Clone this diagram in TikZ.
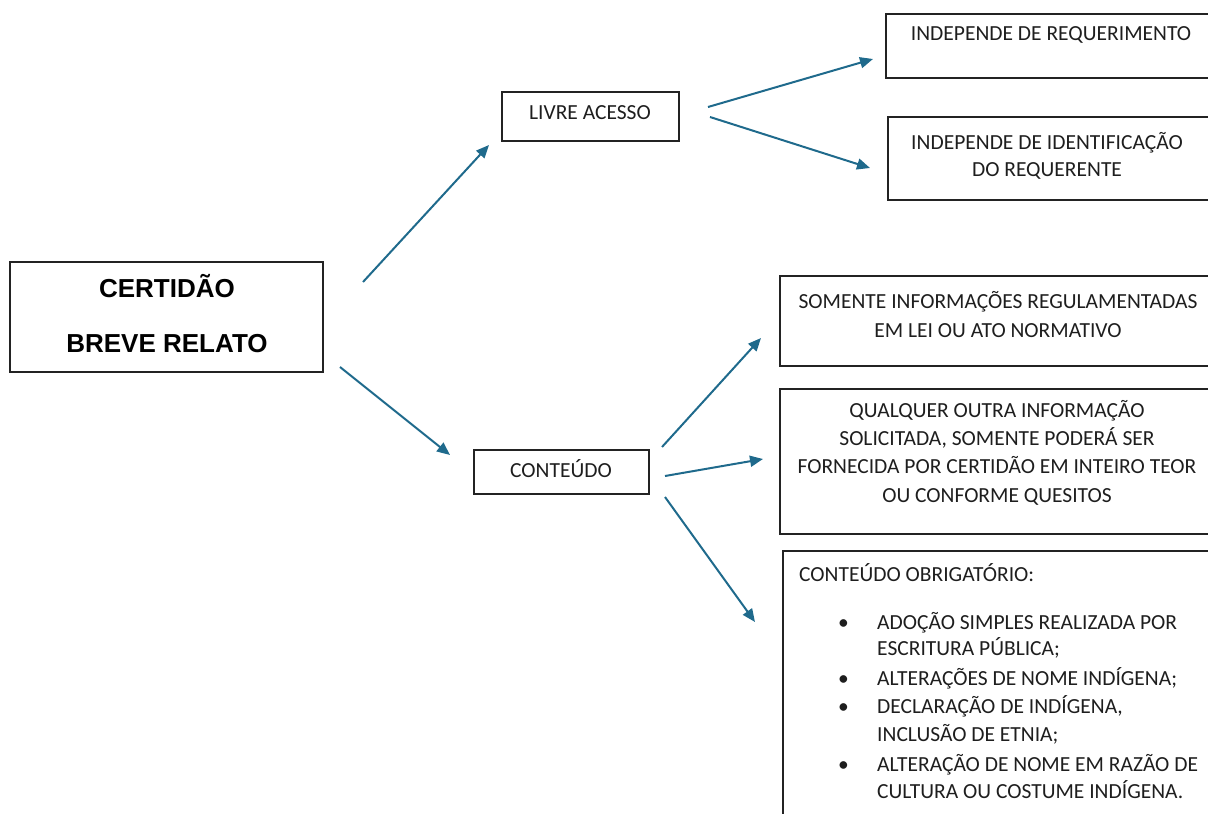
\documentclass[tikz,border=0pt]{standalone}
\usepackage{fontspec}
\setmainfont{Carlito}
\newfontfamily\titlefont{Liberation Sans}
\usetikzlibrary{arrows.meta,calc}
\definecolor{arrowblue}{RGB}{31,106,140}
\definecolor{boxline}{RGB}{35,35,35}
\definecolor{textcol}{RGB}{30,30,30}
\begin{document}
\begin{tikzpicture}[x=1pt,y=-1pt,
  box/.style={draw=boxline, line width=1.4pt, inner sep=0pt, outer sep=0pt, anchor=north west},
  txt/.style={font=\fontsize{21.5}{28}\selectfont, text=textcol, inner sep=0pt, align=center, anchor=base},
  ltxt/.style={font=\fontsize{21.5}{28}\selectfont, text=textcol, inner sep=0pt, anchor=base west},
  ttl/.style={font=\titlefont\bfseries\fontsize{26}{30}\selectfont, text=black, inner sep=0pt, anchor=base},
  arr/.style={draw=arrowblue, line width=2pt, -{Triangle[length=13pt,width=11pt]}}]
\useasboundingbox (0,0) rectangle (1208,814);
\clip (0,0) rectangle (1208,814);
% boxes
\node[box, minimum width=313pt, minimum height=110pt] (main) at (10,262) {};
\node[box, minimum width=177pt, minimum height=49pt] (livre) at (502,92) {};
\node[box, minimum width=175pt, minimum height=44pt] (cont) at (474,450) {};
\node[box, minimum width=340pt, minimum height=64pt] (req) at (886,14) {};
\node[box, minimum width=340pt, minimum height=83pt] (ident) at (888,117) {};
\node[box, minimum width=440pt, minimum height=90pt] (somente) at (780,276) {};
\node[box, minimum width=440pt, minimum height=145pt] (qualquer) at (780,389) {};
\node[box, minimum width=440pt, minimum height=290pt] (obrig) at (783,551) {};
% texts
\node[ttl] (t1) at (167,297) {CERTIDÃO};
\node[ttl] (t2) at (167,352) {BREVE RELATO};
\node[txt] (tlivre) at (590,119) {LIVRE ACESSO};
\node[txt] (tcont) at (561,477) {CONTEÚDO};
\node[txt] (treq) at (1051,40) {INDEPENDE DE REQUERIMENTO};
\node[txt, font=\fontsize{21.5}{27}\selectfont] (tident) at (1047,176) {INDEPENDE DE IDENTIFICAÇÃO\\DO REQUERENTE};
\node[txt, font=\fontsize{21.5}{28.5}\selectfont] (tsom) at (998,337) {SOMENTE INFORMAÇÕES REGULAMENTADAS\\EM LEI OU ATO NORMATIVO};
\node[txt, font=\fontsize{21.5}{28.3}\selectfont] (tqual) at (997,502) {QUALQUER OUTRA INFORMAÇÃO\\SOLICITADA, SOMENTE PODERÁ SER\\FORNECIDA POR CERTIDÃO EM INTEIRO TEOR\\OU CONFORME QUESITOS};
\node[ltxt] (tob) at (799,581) {CONTEÚDO OBRIGATÓRIO:};
\node[ltxt] (b1) at (838,629) {•};
\node[ltxt] (l1) at (877,629) {ADOÇÃO SIMPLES REALIZADA POR};
\node[ltxt] (l2) at (877,655) {ESCRITURA PÚBLICA;};
\node[ltxt] (b2) at (838,685) {•};
\node[ltxt] (l3) at (877,685) {ALTERAÇÕES DE NOME INDÍGENA;};
\node[ltxt] (b3) at (838,713) {•};
\node[ltxt] (l4) at (877,713) {DECLARAÇÃO DE INDÍGENA,};
\node[ltxt] (l5) at (877,741) {INCLUSÃO DE ETNIA;};
\node[ltxt] (b4) at (838,771) {•};
\node[ltxt] (l6) at (877,771) {ALTERAÇÃO DE NOME EM RAZÃO DE};
\node[ltxt] (l7) at (877,798) {CULTURA OU COSTUME INDÍGENA.};
% arrows
\draw[arr] ($(main.north east)+(40,20)$) -- ($(livre.south west)+(-13,4)$);
\draw[arr] ($(main.south east)+(17,-5)$) -- ($(cont.north west)+(-24,5)$);
\draw[arr] ($(livre.east)+(29,-9.5)$) -- ($(req.west)+(-13,13)$);
\draw[arr] ($(livre.east)+(31,0.5)$) -- ($(ident.west)+(-18,9.5)$);
\draw[arr] ($(cont.north east)+(13,-3)$) -- ($(somente.west)+(-19,17)$);
\draw[arr] ($(cont.east)+(16,4)$) -- ($(qualquer.west)+(-17,-2.5)$);
\draw[arr] ($(cont.south east)+(16,3)$) -- ($(obrig.north west)+(-28,71)$);
\end{tikzpicture}
\end{document}
